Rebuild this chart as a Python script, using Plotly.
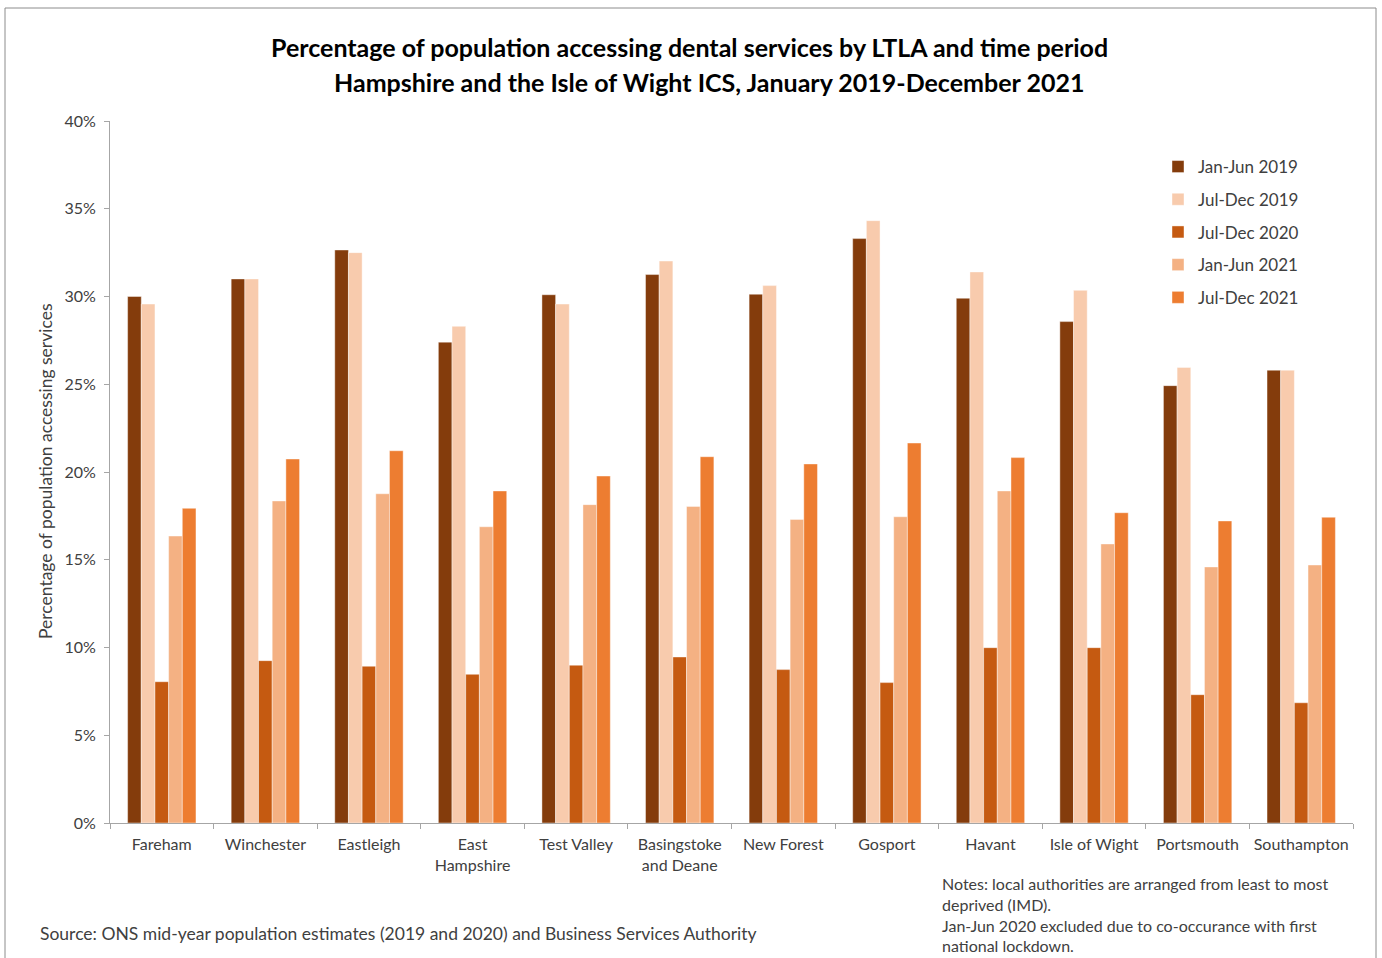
import plotly.graph_objects as go

# Lower-tier local authorities, least to most deprived (IMD)
ltla = ["Fareham", "Winchester", "Eastleigh", "East<br>Hampshire", "Test Valley",
        "Basingstoke<br>and Deane", "New Forest", "Gosport", "Havant",
        "Isle of Wight", "Portsmouth", "Southampton"]

periods = ["Jan-Jun 2019", "Jul-Dec 2019", "Jul-Dec 2020", "Jan-Jun 2021", "Jul-Dec 2021"]

# Percentage of population accessing dental services
jan_jun_2019 = [30.0, 31.0, 32.65, 27.4, 30.1, 31.25, 30.13, 33.3, 29.9, 28.57, 24.92, 25.8]
jul_dec_2019 = [29.57, 31.0, 32.5, 28.3, 29.57, 32.02, 30.62, 34.32, 31.4, 30.35, 25.96, 25.8]
jul_dec_2020 = [8.05, 9.25, 8.93, 8.47, 8.99, 9.46, 8.74, 8.0, 9.99, 9.99, 7.31, 6.85]
jan_jun_2021 = [16.35, 18.35, 18.76, 16.88, 18.14, 18.04, 17.3, 17.45, 18.92, 15.9, 14.59, 14.7]
jul_dec_2021 = [17.93, 20.74, 21.21, 18.92, 19.77, 20.87, 20.46, 21.65, 20.82, 17.68, 17.21, 17.42]

series = [jan_jun_2019, jul_dec_2019, jul_dec_2020, jan_jun_2021, jul_dec_2021]
colors = ["#843C0C", "#F8CBAD", "#C55A11", "#F4B183", "#ED7D31"]

FONT = "Lato"
TEXT = "#404040"

fig = go.Figure()
for i, (name, vals, col) in enumerate(zip(periods, series, colors)):
    fig.add_trace(go.Bar(
        x=ltla, y=vals, name=name, legendgroup=f"g{i}",
        marker=dict(color=col, line=dict(color="rgba(255,255,255,0.7)", width=0.6)),
        hovertemplate="%{x}<br>" + name + ": %{y:.1f}%<extra></extra>",
    ))

# plot area spans x 110..1353 px, y 121..823 px
def px_x(px):
    return (px - 110) / 1243

def px_y(py):
    return (823 - py) / 702

fig.update_layout(
    width=1382, height=958,
    margin=dict(l=110, r=29, t=121, b=135, autoexpand=False),
    paper_bgcolor="white", plot_bgcolor="white",
    font=dict(family=FONT, color=TEXT, size=16),
    barmode="group", bargap=0.34, bargroupgap=0.0,
    showlegend=True,
    legend=dict(
        x=px_x(1158), y=px_y(149), xanchor="left", yanchor="top",
        font=dict(family=FONT, size=17, color=TEXT),
        tracegroupgap=7.6, bgcolor="rgba(0,0,0,0)", itemclick=False,
    ),
    xaxis=dict(
        type="category", showline=True, linecolor="#A6A6A6", linewidth=1,
        ticks="outside", tickson="boundaries", ticklen=5, tickcolor="#A6A6A6",
        tickangle=0,
        tickfont=dict(family=FONT, size=16, color=TEXT), ticklabelstandoff=7,
        showgrid=False, zeroline=False, automargin=False,
    ),
    yaxis=dict(
        range=[0, 40], dtick=5, ticksuffix="%", showline=True,
        linecolor="#A6A6A6", linewidth=1, ticks="outside", ticklen=5,
        tickcolor="#A6A6A6", tickfont=dict(family=FONT, size=16, color=TEXT),
        ticklabelstandoff=5,
        showgrid=False, zeroline=False, automargin=False,
    ),
)

annotations = [
    dict(text="<b>Percentage of population accessing dental services by LTLA and time period</b>",
         x=px_x(689), y=px_y(47), font=dict(size=25, color="#000000")),
    dict(text="<b>Hampshire and the Isle of Wight ICS, January 2019-December 2021</b>",
         x=px_x(709), y=px_y(82), font=dict(size=25, color="#000000")),
    dict(text="Percentage of population accessing services", textangle=-90,
         x=px_x(45), y=0.5, font=dict(size=17.5, color=TEXT)),
    dict(text="Source: ONS mid-year population estimates (2019 and 2020) and Business Services Authority",
         x=px_x(38), y=px_y(934), xanchor="left", font=dict(size=17.5, color=TEXT)),
    dict(text="Notes: local authorities are arranged from least to most<br>deprived (IMD).<br>"
              "Jan-Jun 2020 excluded due to co-occurance with first<br>national lockdown.",
         x=px_x(940), y=px_y(872), xanchor="left", yanchor="top", align="left",
         font=dict(size=16, color=TEXT)),
]
for a in annotations:
    a.setdefault("xanchor", "center")
    a.setdefault("yanchor", "middle")
    fig.add_annotation(xref="paper", yref="paper", showarrow=False, **a)

# chart frame
fig.add_shape(type="rect", xref="paper", yref="paper",
              x0=px_x(5), x1=px_x(1376), y0=px_y(990), y1=px_y(8),
              line=dict(color="#8C8C8C", width=1), fillcolor="rgba(0,0,0,0)", layer="below")

fig.write_html("out.html")
